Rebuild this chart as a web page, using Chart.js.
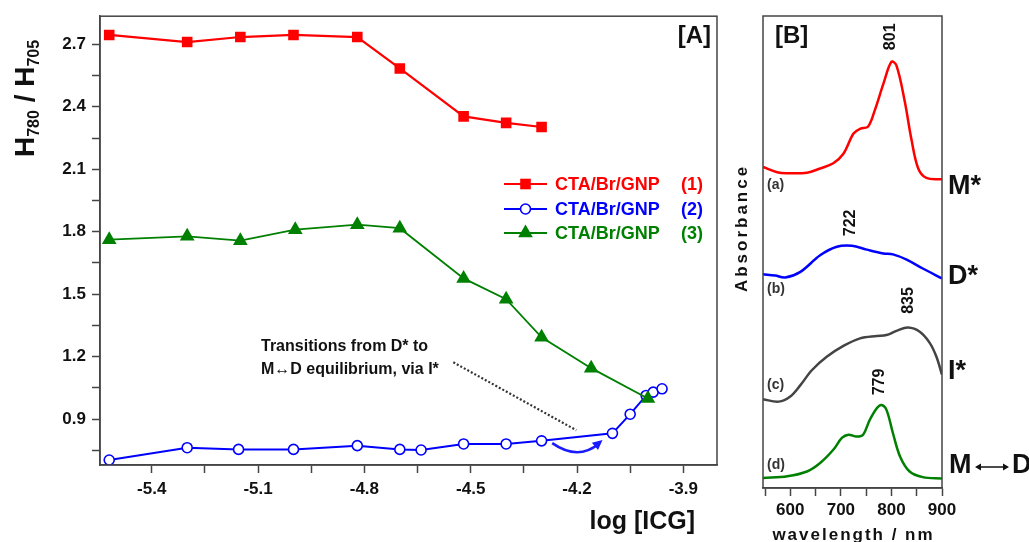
<!DOCTYPE html>
<html>
<head>
<meta charset="utf-8">
<script src="https://cdn.jsdelivr.net/npm/chart.js@4.4.0/dist/chart.umd.min.js"></script>
<style>
  html, body { margin: 0; padding: 0; background: #fff; }
  #wrap { position: relative; width: 1029px; height: 542px; overflow: hidden; }
  #chartA { position: absolute; left: 0; top: 0; }
  #chartB { position: absolute; left: 730px; top: 0; }
</style>
</head>
<body>
<div id="wrap">
  <canvas id="chartA" width="730" height="542"></canvas>
  <canvas id="chartB" width="299" height="542"></canvas>
</div>
<script>
const FONT = '"Liberation Sans", Arial, Helvetica, sans-serif';

// ---- Panel A : H780/H705 vs log[ICG] ----
const logIcg1 = [-5.52, -5.30, -5.15, -5.00, -4.82, -4.70, -4.52, -4.40, -4.30];
const ratio1  = [2.745, 2.711, 2.735, 2.745, 2.735, 2.584, 2.354, 2.323, 2.303];

const logIcg2 = [-5.52, -5.30, -5.155, -5.00, -4.82, -4.70, -4.64, -4.52, -4.40, -4.30, -4.10, -4.05, -4.005, -3.985, -3.96];
const ratio2  = [0.704, 0.763, 0.755, 0.755, 0.773, 0.755, 0.752, 0.781, 0.781, 0.796, 0.832, 0.924, 1.014, 1.030, 1.046];

const logIcg3 = [-5.52, -5.30, -5.15, -4.995, -4.82, -4.70, -4.52, -4.40, -4.30, -4.16, -4.00];
const ratio3  = [1.762, 1.778, 1.757, 1.810, 1.834, 1.817, 1.576, 1.476, 1.293, 1.145, 0.999];

const seriesNames = ['CTA/Br/GNP', 'CTA/Br/GNP', 'CTA/Br/GNP'];
const seriesTags = ['(1)', '(2)', '(3)'];

const xTicksA = [-5.4, -5.25, -5.1, -4.95, -4.8, -4.65, -4.5, -4.35, -4.2, -4.05, -3.9];
const xLabelsA = ['-5.4', '-5.1', '-4.8', '-4.5', '-4.2', '-3.9'];
const yTicksA = [0.75, 0.9, 1.05, 1.2, 1.35, 1.5, 1.65, 1.8, 1.95, 2.1, 2.25, 2.4, 2.55, 2.7];
const yLabelsA = ['0.9', '1.2', '1.5', '1.8', '2.1', '2.4', '2.7'];

// ---- Panel B : absorbance spectra (stacked, arbitrary units) ----
const wlA = [546, 574, 594, 633, 659, 685, 705, 725, 738, 754, 767, 784, 800, 810, 826, 840, 853, 869, 900];
const absA = [6.80, 6.69, 6.67, 6.68, 6.77, 6.88, 7.08, 7.51, 7.61, 7.66, 8.00, 8.56, 9.03, 8.95, 8.21, 7.36, 6.77, 6.57, 6.54];

const wlB = [546, 570, 590, 620, 659, 692, 722, 751, 784, 803, 830, 862, 900];
const absB = [4.53, 4.50, 4.46, 4.58, 4.93, 5.11, 5.13, 5.05, 4.97, 4.95, 4.84, 4.65, 4.44];

const wlC = [546, 577, 600, 620, 643, 672, 705, 738, 771, 790, 810, 833, 856, 876, 889, 900];
const absC = [1.88, 1.83, 1.94, 2.18, 2.50, 2.78, 3.01, 3.17, 3.22, 3.24, 3.33, 3.40, 3.31, 3.07, 2.78, 2.40];

const wlD = [546, 594, 633, 659, 685, 702, 715, 731, 744, 757, 771, 780, 790, 803, 817, 836, 862, 900];
const absD = [0.21, 0.25, 0.35, 0.53, 0.81, 1.06, 1.13, 1.09, 1.13, 1.44, 1.69, 1.76, 1.66, 1.16, 0.67, 0.35, 0.23, 0.20];

const peakWl = [801, 722, 835, 779];
const peakAbs = [9.03, 5.13, 3.40, 1.76];
const curveTags = ['(a)', '(b)', '(c)', '(d)'];
const curveStates = ['M*', 'D*', 'I*', 'M\u2194D'];

const wlTicks = [550, 600, 650, 700, 750, 800, 850, 900];
const wlLabels = [600, 700, 800, 900];

function toXY(xs, ys) {
    return xs.map((x, i) => ({ x: x, y: ys[i] }));
}

function drawMarker(ctx, style, x, y, r, fill, stroke, lw) {
    ctx.save();
    ctx.beginPath();
    if (style === 'rect') {
        const s = Math.SQRT1_2 * r;
        ctx.rect(x - s, y - s, 2 * s, 2 * s);
    } else if (style === 'triangle') {
        ctx.moveTo(x, y - r);
        ctx.lineTo(x + r * 0.866, y + r * 0.5);
        ctx.lineTo(x - r * 0.866, y + r * 0.5);
        ctx.closePath();
    } else {
        ctx.arc(x, y, r, 0, Math.PI * 2);
    }
    ctx.fillStyle = fill;
    ctx.fill();
    if (lw) {
        ctx.lineWidth = lw;
        ctx.strokeStyle = stroke;
        ctx.stroke();
    }
    ctx.restore();
}

const panelA = {
    id: 'panelA',
    afterDraw(chart) {
        const ctx = chart.ctx;
        const a = chart.chartArea;
        const xs = chart.scales.x, ys = chart.scales.y;
        ctx.save();

        // frame
        ctx.strokeStyle = '#444';
        ctx.lineWidth = 1.5;
        ctx.strokeRect(a.left, a.top, a.right - a.left, a.bottom - a.top);

        // panel tag
        ctx.fillStyle = '#111';
        ctx.font = 'bold 24px ' + FONT;
        ctx.textAlign = 'right';
        ctx.textBaseline = 'alphabetic';
        ctx.fillText('[A]', a.right - 6, 43);

        // legend
        const legendY = [184, 209, 233];
        chart.data.datasets.forEach(ds => {
            const i = ds.legendIndex;
            const y = legendY[i];
            ctx.strokeStyle = ds.borderColor;
            ctx.lineWidth = 2;
            ctx.beginPath();
            ctx.moveTo(504, y);
            ctx.lineTo(547, y);
            ctx.stroke();
            drawMarker(ctx, ds.pointStyle, 525.5, y, ds.pointRadius, ds.pointBackgroundColor, ds.pointBorderColor, ds.pointBorderWidth);
            ctx.fillStyle = ds.borderColor;
            ctx.font = 'bold 18px ' + FONT;
            ctx.textAlign = 'left';
            ctx.textBaseline = 'middle';
            ctx.fillText(seriesNames[i], 555, y + 1);
            ctx.fillText(seriesTags[i], 681, y + 1);
        });

        // annotation
        ctx.fillStyle = '#111';
        ctx.font = 'bold 16px ' + FONT;
        ctx.textAlign = 'left';
        ctx.textBaseline = 'middle';
        ctx.fillText('Transitions from D* to', 261, 347);
        ctx.fillText('M\u2194D equilibrium, via I*', 261, 370);

        // dotted pointer
        ctx.strokeStyle = '#333';
        ctx.lineWidth = 2.2;
        ctx.setLineDash([2, 2]);
        ctx.beginPath();
        ctx.moveTo(xs.getPixelForValue(-4.549), ys.getPixelForValue(1.173));
        ctx.lineTo(xs.getPixelForValue(-4.202), ys.getPixelForValue(0.847));
        ctx.stroke();
        ctx.setLineDash([]);

        // curved blue arrow
        const sx = xs.getPixelForValue(-4.27), sy = ys.getPixelForValue(0.785);
        const cx = xs.getPixelForValue(-4.198), cy = ys.getPixelForValue(0.70);
        const ex = xs.getPixelForValue(-4.128), ey = ys.getPixelForValue(0.80);
        ctx.strokeStyle = '#1a1aff';
        ctx.lineWidth = 2.5;
        ctx.beginPath();
        ctx.moveTo(sx, sy);
        ctx.quadraticCurveTo(cx, cy, ex - 4, ey + 4);
        ctx.stroke();
        const ang = Math.atan2(ey - cy, ex - cx);
        ctx.fillStyle = '#1a1aff';
        ctx.beginPath();
        ctx.moveTo(ex, ey);
        ctx.lineTo(ex - 11 * Math.cos(ang - 0.45), ey - 11 * Math.sin(ang - 0.45));
        ctx.lineTo(ex - 11 * Math.cos(ang + 0.45), ey - 11 * Math.sin(ang + 0.45));
        ctx.closePath();
        ctx.fill();

        // x title
        ctx.fillStyle = '#111';
        ctx.font = 'bold 25px ' + FONT;
        ctx.textAlign = 'right';
        ctx.textBaseline = 'alphabetic';
        ctx.fillText('log [ICG]', 695, 529);

        // y title H780 / H705
        ctx.translate(34, 157);
        ctx.rotate(-Math.PI / 2);
        ctx.textAlign = 'left';
        const parts = [
            ['H', 28, 0], ['780', 16, 5], [' / ', 28, 0], ['H', 28, 0], ['705', 16, 5]
        ];
        let px = 0;
        parts.forEach(p => {
            ctx.font = 'bold ' + p[1] + 'px ' + FONT;
            ctx.fillText(p[0], px, p[2]);
            px += ctx.measureText(p[0]).width;
        });
        ctx.restore();
    }
};

const tickFont = { family: FONT, size: 17, weight: 'bold' };

new Chart(document.getElementById('chartA'), {
    type: 'line',
    data: {
        datasets: [
            {
                legendIndex: 0,
                data: toXY(logIcg1, ratio1),
                borderColor: '#ff0000',
                borderWidth: 2.2,
                pointStyle: 'rect',
                pointRadius: 7.5,
                pointBackgroundColor: '#ff0000',
                pointBorderColor: '#ff0000',
                pointBorderWidth: 0,
                tension: 0
            },
            {
                legendIndex: 2,
                data: toXY(logIcg3, ratio3),
                borderColor: '#008000',
                borderWidth: 1.8,
                pointStyle: 'triangle',
                pointRadius: 8.5,
                pointBackgroundColor: '#008000',
                pointBorderColor: '#008000',
                pointBorderWidth: 0,
                tension: 0
            },
            {
                legendIndex: 1,
                data: toXY(logIcg2, ratio2),
                borderColor: '#0000ff',
                borderWidth: 2,
                pointStyle: 'circle',
                pointRadius: 5,
                pointBackgroundColor: '#ffffff',
                pointBorderColor: '#0000ff',
                pointBorderWidth: 1.6,
                tension: 0
            }
        ]
    },
    options: {
        responsive: false,
        animation: false,
        layout: { padding: { top: 13, right: 13, left: 0, bottom: 0 } },
        plugins: { legend: { display: false }, tooltip: { enabled: false } },
        scales: {
            x: {
                type: 'linear',
                min: -5.546,
                max: -3.805,
                afterBuildTicks: s => { s.ticks = xTicksA.map(v => ({ value: v })); },
                afterFit: s => { s.height = 77; },
                grid: { drawOnChartArea: false, tickLength: 8, color: '#444', tickWidth: 1.5 },
                border: { color: '#444', width: 1.5 },
                ticks: {
                    font: tickFont, color: '#111', padding: 6, maxRotation: 0, autoSkip: false,
                    callback: v => { const t = v.toFixed(1); return xLabelsA.includes(t) && Math.abs(v - parseFloat(t)) < 1e-6 ? t : ''; }
                }
            },
            y: {
                min: 0.68,
                max: 2.835,
                afterBuildTicks: s => { s.ticks = yTicksA.map(v => ({ value: v })); },
                afterFit: s => { s.width = 100; },
                grid: { drawOnChartArea: false, tickLength: 8, color: '#444', tickWidth: 1.5 },
                border: { color: '#444', width: 1.5 },
                ticks: {
                    font: tickFont, color: '#111', padding: 6, autoSkip: false,
                    callback: v => { const t = v.toFixed(1); return yLabelsA.includes(t) && Math.abs(v - parseFloat(t)) < 1e-6 ? t : ''; }
                }
            }
        }
    },
    plugins: [panelA]
});

// ---- Panel B ----
const panelB = {
    id: 'panelB',
    afterDraw(chart) {
        const ctx = chart.ctx;
        const a = chart.chartArea;
        const xs = chart.scales.x, ys = chart.scales.y;
        ctx.save();

        ctx.strokeStyle = '#444';
        ctx.lineWidth = 1.5;
        ctx.strokeRect(a.left, a.top, a.right - a.left, a.bottom - a.top);

        ctx.fillStyle = '#111';
        ctx.font = 'bold 24px ' + FONT;
        ctx.textAlign = 'left';
        ctx.textBaseline = 'alphabetic';
        ctx.fillText('[B]', a.left + 12, 43);

        // peak labels, rotated
        ctx.font = 'bold 16px ' + FONT;
        ctx.textAlign = 'center';
        ctx.textBaseline = 'middle';
        const lift = [25, 23, 27, 23];
        peakWl.forEach((w, i) => {
            ctx.save();
            ctx.translate(xs.getPixelForValue(w) - 1, ys.getPixelForValue(peakAbs[i]) - lift[i]);
            ctx.rotate(-Math.PI / 2);
            ctx.fillText(String(w), 0, 0);
            ctx.restore();
        });

        // curve tags
        ctx.fillStyle = '#333';
        ctx.font = 'bold 14px ' + FONT;
        ctx.textAlign = 'left';
        const tagY = [185, 289, 385, 465];
        curveTags.forEach((t, i) => ctx.fillText(t, a.left + 4, tagY[i]));

        // state labels on the right
        ctx.fillStyle = '#111';
        ctx.font = 'bold 27px ' + FONT;
        const stateY = [187, 277, 372, 466];
        curveStates.slice(0, 3).forEach((t, i) => ctx.fillText(t, a.right + 6, stateY[i]));
        ctx.fillText('M', a.right + 7, stateY[3]);
        ctx.fillText('D', a.right + 70, stateY[3]);
        ctx.strokeStyle = '#111';
        ctx.lineWidth = 1.5;
        const ax0 = a.right + 33, ax1 = a.right + 67, ay = stateY[3] + 1;
        ctx.beginPath();
        ctx.moveTo(ax0 + 3, ay);
        ctx.lineTo(ax1 - 3, ay);
        ctx.stroke();
        ctx.beginPath();
        ctx.moveTo(ax0, ay); ctx.lineTo(ax0 + 6, ay - 3.5); ctx.lineTo(ax0 + 6, ay + 3.5); ctx.closePath();
        ctx.moveTo(ax1, ay); ctx.lineTo(ax1 - 6, ay - 3.5); ctx.lineTo(ax1 - 6, ay + 3.5); ctx.closePath();
        ctx.fill();

        // axis titles
        ctx.font = 'bold 17px ' + FONT;
        ctx.letterSpacing = '2px';
        ctx.textAlign = 'center';
        ctx.textBaseline = 'alphabetic';
        ctx.fillText('wavelength / nm', (a.left + a.right) / 2 + 1, 540);
        ctx.save();
        ctx.translate(17, 228);
        ctx.rotate(-Math.PI / 2);
        ctx.letterSpacing = '3px';
        ctx.font = 'bold 17px ' + FONT;
        ctx.fillText('Absorbance', 0, 0);
        ctx.restore();
        ctx.restore();
    }
};

new Chart(document.getElementById('chartB'), {
    type: 'line',
    data: {
        datasets: [
            { data: toXY(wlA, absA), borderColor: '#ff0000', borderWidth: 2.5, pointRadius: 0, tension: 0.35 },
            { data: toXY(wlB, absB), borderColor: '#0000ff', borderWidth: 2.5, pointRadius: 0, tension: 0.35 },
            { data: toXY(wlC, absC), borderColor: '#444444', borderWidth: 2.5, pointRadius: 0, tension: 0.35 },
            { data: toXY(wlD, absD), borderColor: '#008000', borderWidth: 2.5, pointRadius: 0, tension: 0.35 }
        ]
    },
    options: {
        responsive: false,
        animation: false,
        layout: { padding: { top: 16, right: 87, left: 33, bottom: 0 } },
        plugins: { legend: { display: false }, tooltip: { enabled: false } },
        scales: {
            x: {
                type: 'linear',
                min: 546,
                max: 900,
                afterBuildTicks: s => { s.ticks = wlTicks.map(v => ({ value: v })); },
                afterFit: s => { s.height = 54; },
                grid: { drawOnChartArea: false, tickLength: 8, color: '#444', tickWidth: 1.5 },
                border: { color: '#444', width: 1.5 },
                ticks: {
                    font: tickFont, color: '#111', padding: 4, maxRotation: 0, autoSkip: false,
                    callback: v => wlLabels.includes(v) ? String(v) : ''
                }
            },
            y: { min: 0, max: 10, display: false }
        }
    },
    plugins: [panelB]
});
</script>
</body>
</html>
